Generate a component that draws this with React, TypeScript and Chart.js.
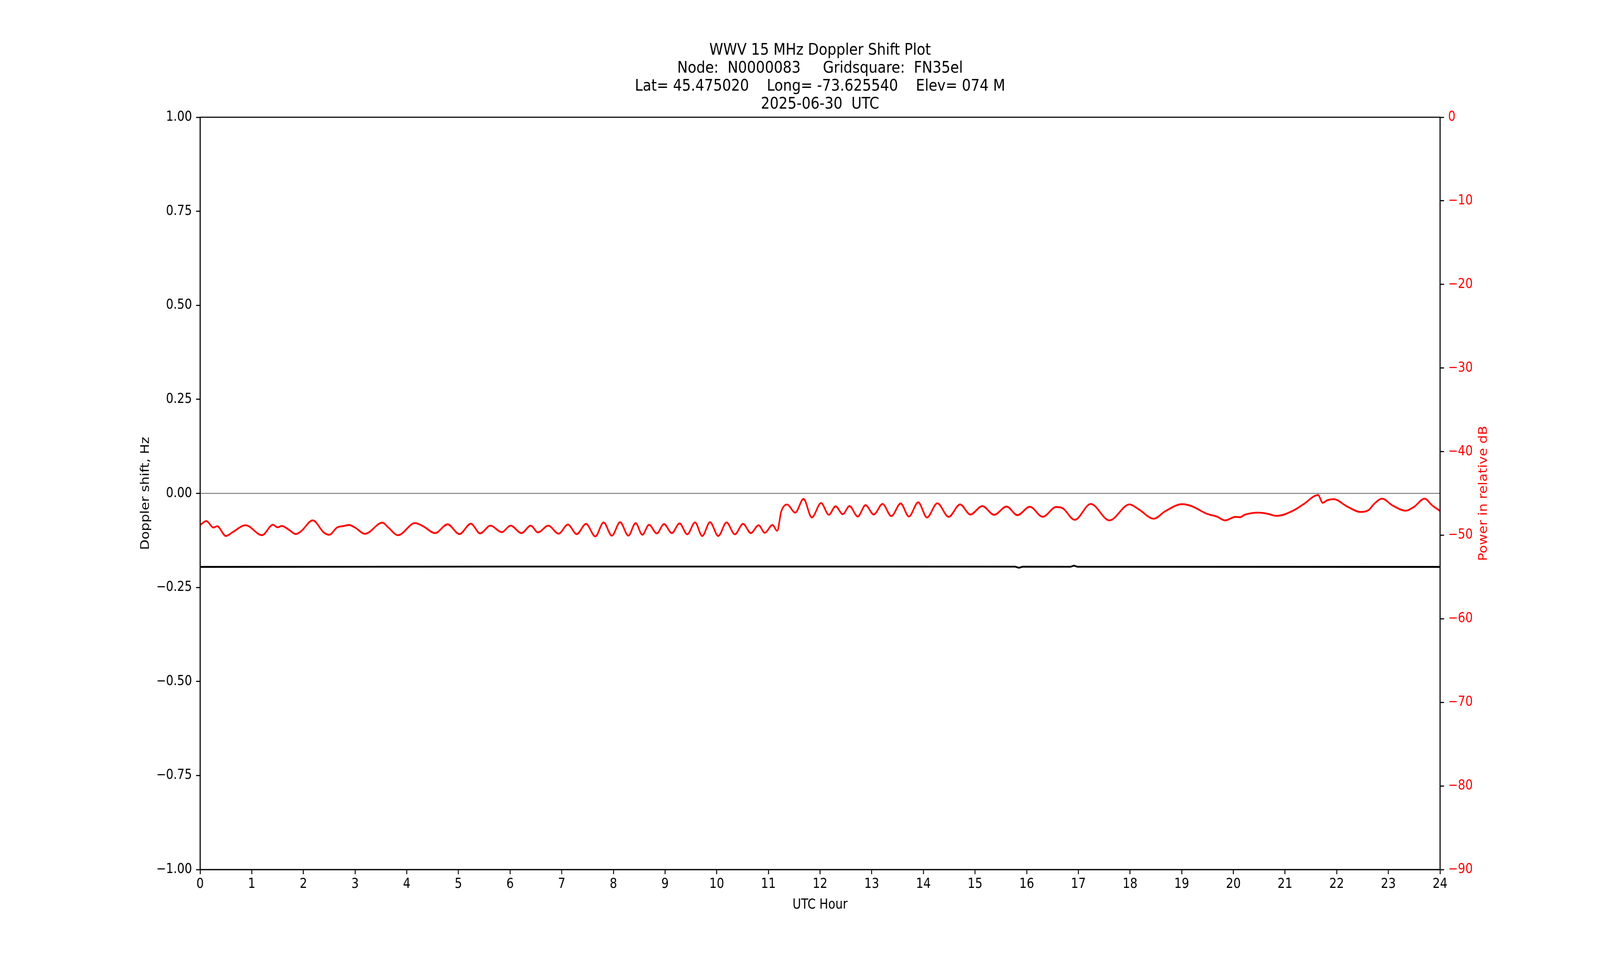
import { useEffect, useRef } from 'react'
import { Chart, registerables } from 'chart.js'

Chart.register(...registerables)

// received power (red, right axis) – peaks / troughs
const powerHours = [
  0.0, 0.12, 0.26, 0.33, 0.5, 0.63, 0.88, 1.2, 1.41, 1.5, 1.58, 1.73, 1.85, 1.95, 2.18, 2.4, 2.5, 2.65, 2.78, 2.88,
  3.0, 3.19, 3.53, 3.64, 3.83, 4.16, 4.32, 4.55, 4.79, 5.02, 5.24, 5.42, 5.62, 5.84, 6.01, 6.22, 6.4, 6.54, 6.74, 6.94,
  7.12, 7.29, 7.47, 7.65, 7.81, 7.97, 8.13, 8.29, 8.43, 8.56, 8.69, 8.84, 8.98, 9.13, 9.28, 9.43, 9.58, 9.72, 9.87, 10.03,
  10.19, 10.35, 10.51, 10.66, 10.81, 10.93, 11.08, 11.17, 11.25, 11.36, 11.52, 11.68, 11.84, 12.02, 12.17, 12.3, 12.44, 12.57, 12.73, 12.88,
  13.04, 13.21, 13.38, 13.56, 13.72, 13.9, 14.07, 14.27, 14.49, 14.71, 14.91, 15.14, 15.37, 15.61, 15.82, 16.06, 16.31, 16.57, 16.69, 16.93,
  17.24, 17.6, 17.99, 18.17, 18.46, 18.68, 19.01, 19.19, 19.49, 19.68, 19.84, 20.04, 20.13, 20.22, 20.49, 20.64, 20.84, 21.18, 21.36, 21.64,
  21.73, 21.82, 21.94, 22.21, 22.46, 22.62, 22.72, 22.88, 23.08, 23.34, 23.5, 23.7, 23.85, 24.0,
]
const powerDb = [
  -48.8, -48.31, -49.09, -48.93, -50.1, -49.64, -48.81, -50.0, -48.75, -49.06, -48.9, -49.4, -49.87, -49.56, -48.23, -49.71, -49.95, -49.09, -48.9, -48.78,
  -49.09, -49.84, -48.5, -49.06, -50.0, -48.55, -48.94, -49.75, -48.7, -49.87, -48.62, -49.79, -48.86, -49.64, -48.86, -49.75, -48.86, -49.67, -48.86, -49.82,
  -48.73, -49.87, -48.65, -50.15, -48.47, -50.06, -48.44, -50.06, -48.55, -49.95, -48.75, -49.79, -48.67, -49.75, -48.59, -49.9, -48.47, -50.1, -48.44, -50.1,
  -48.47, -49.9, -48.65, -49.75, -48.81, -49.71, -48.78, -49.48, -47.14, -46.33, -47.3, -45.66, -47.88, -46.16, -47.56, -46.55, -47.49, -46.52, -47.77, -46.41,
  -47.53, -46.26, -47.72, -46.21, -47.77, -46.07, -47.88, -46.18, -47.81, -46.32, -47.53, -46.52, -47.56, -46.57, -47.61, -46.6, -47.8, -46.63, -46.75, -48.16,
  -46.26, -48.23, -46.32, -46.91, -48.03, -47.14, -46.29, -46.52, -47.45, -47.77, -48.23, -47.81, -47.85, -47.56, -47.3, -47.41, -47.69, -46.99, -46.29, -45.2,
  -46.13, -45.82, -45.69, -46.6, -47.22, -46.99, -46.29, -45.63, -46.44, -47.07, -46.6, -45.63, -46.44, -47.1,
]

// doppler shift (black, left axis)
const dopplerHours = [0, 3, 6, 9, 12, 15.78, 15.85, 15.92, 16.85, 16.915, 16.98, 20, 24]
const dopplerHz = [-0.1955, -0.195, -0.1945, -0.1945, -0.1945, -0.1948, -0.1978, -0.1948, -0.195, -0.192, -0.195, -0.1952, -0.1955]

// grey reference line at 0 Hz
const zeroHours = [0, 24]
const zeroHz = [0, 0]

const hourTicks = { min: 0, max: 24, step: 1 }
const hzTicks = { min: -1, max: 1, step: 0.25 }
const dbTicks = { min: -90, max: 0, step: 10 }

const titleLines = [
  'WWV 15 MHz Doppler Shift Plot',
  'Node:  N0000083     Gridsquare:  FN35el',
  'Lat= 45.475020    Long= -73.625540    Elev= 074 M',
  '2025-06-30  UTC',
]

// the figure is laid out on a 4750x2500 canvas, then fitted to the window
const FIG_W = 4750
const FIG_H = 2500
const FONT = 'DejaVu Sans'
const TICK_PX = 34.7
const TITLE_PX = 41.7
const SPINE = 2.8
const MINUS = '\u2212'

const pairs = (xs: number[], ys: number[]) => xs.map((x, i) => ({ x, y: ys[i] }))

const decor = {
  id: 'decor',
  afterDatasetsDraw(chart: any) {
    const { ctx, chartArea: a } = chart
    ctx.save()
    ctx.strokeStyle = '#000'
    ctx.lineWidth = SPINE
    ctx.strokeRect(a.left, a.top, a.right - a.left, a.bottom - a.top)
    ctx.restore()
  },
  afterDraw(chart: any) {
    const { ctx, chartArea: a } = chart
    const cx = (a.left + a.right) / 2
    ctx.save()
    ctx.fillStyle = '#000'
    ctx.textAlign = 'center'
    ctx.textBaseline = 'alphabetic'
    ctx.font = `${TITLE_PX}px "${FONT}"`
    const offs = [160, 114, 68, 22]
    titleLines.forEach((t, i) => ctx.fillText(t, cx, a.top - offs[i]))

    ctx.font = `${TICK_PX}px "${FONT}"`
    ctx.fillText('UTC Hour', cx, a.bottom + 100)

    const cy = (a.top + a.bottom) / 2
    ctx.save()
    ctx.translate(a.left - 152, cy)
    ctx.rotate(-Math.PI / 2)
    ctx.fillText('Doppler shift, Hz', 0, 0)
    ctx.restore()

    ctx.save()
    ctx.fillStyle = '#ff0000'
    ctx.translate(a.right + 139, cy)
    ctx.rotate(-Math.PI / 2)
    ctx.fillText('Power in relative dB', 0, 0)
    ctx.restore()
    ctx.restore()
  },
}

const tickGrid = {
  display: true,
  drawOnChartArea: false,
  drawTicks: true,
  tickLength: 12,
  tickWidth: SPINE,
  tickColor: '#000',
}

export default function App() {
  const canvasRef = useRef<HTMLCanvasElement>(null)

  useEffect(() => {
    document.body.style.margin = '0'
    document.body.style.overflow = 'hidden'
    const canvas = canvasRef.current
    if (!canvas) return
    canvas.style.width = `${window.innerWidth || FIG_W}px`
    canvas.style.height = `${window.innerHeight || FIG_H}px`

    const chart = new Chart(canvas, {
      type: 'line',
      data: {
        datasets: [
          {
            data: pairs(powerHours, powerDb),
            yAxisID: 'y1',
            borderColor: '#ff0000',
            borderWidth: 4.6,
            pointRadius: 0,
            cubicInterpolationMode: 'monotone',
            order: 1,
          },
          {
            data: pairs(dopplerHours, dopplerHz),
            yAxisID: 'y',
            borderColor: '#000000',
            borderWidth: 4.6,
            pointRadius: 0,
            tension: 0,
            order: 2,
          },
          {
            data: pairs(zeroHours, zeroHz),
            yAxisID: 'y',
            borderColor: '#808080',
            borderWidth: 2.6,
            pointRadius: 0,
            order: 3,
          },
        ],
      },
      options: {
        responsive: false,
        devicePixelRatio: 1,
        animation: false,
        events: [],
        layout: { padding: { top: 300, left: 0, right: 0, bottom: 0 } },
        plugins: { legend: { display: false }, tooltip: { enabled: false }, title: { display: false } },
        scales: {
          x: {
            type: 'linear',
            min: hourTicks.min,
            max: hourTicks.max,
            afterFit: (s: any) => { s.height = 275 },
            grid: tickGrid,
            border: { display: true, color: '#000', width: SPINE },
            ticks: {
              stepSize: hourTicks.step,
              autoSkip: false,
              maxRotation: 0,
              padding: 5,
              color: '#000',
              font: { family: FONT, size: TICK_PX },
              callback: (v: any) => String(v),
            },
          },
          y: {
            type: 'linear',
            position: 'left',
            min: hzTicks.min,
            max: hzTicks.max,
            afterFit: (s: any) => { s.width = 594 },
            grid: tickGrid,
            border: { display: true, color: '#000', width: SPINE },
            ticks: {
              stepSize: hzTicks.step,
              padding: 12,
              color: '#000',
              font: { family: FONT, size: TICK_PX },
              callback: (v: any) => (v < -1e-9 ? MINUS : '') + Math.abs(v).toFixed(2),
            },
          },
          y1: {
            type: 'linear',
            position: 'right',
            min: dbTicks.min,
            max: dbTicks.max,
            afterFit: (s: any) => { s.width = 475 },
            grid: tickGrid,
            border: { display: true, color: '#000', width: SPINE },
            ticks: {
              stepSize: dbTicks.step,
              padding: 12,
              color: '#ff0000',
              font: { family: FONT, size: TICK_PX },
              callback: (v: any) => (v < 0 ? MINUS : '') + Math.abs(v),
            },
          },
        },
      },
      plugins: [decor],
    })
    return () => { chart.destroy() }
  }, [])

  return (
    <div style={{ background: '#fff' }}>
      <canvas ref={canvasRef} width={FIG_W} height={FIG_H} style={{ display: 'block' }} />
    </div>
  )
}
